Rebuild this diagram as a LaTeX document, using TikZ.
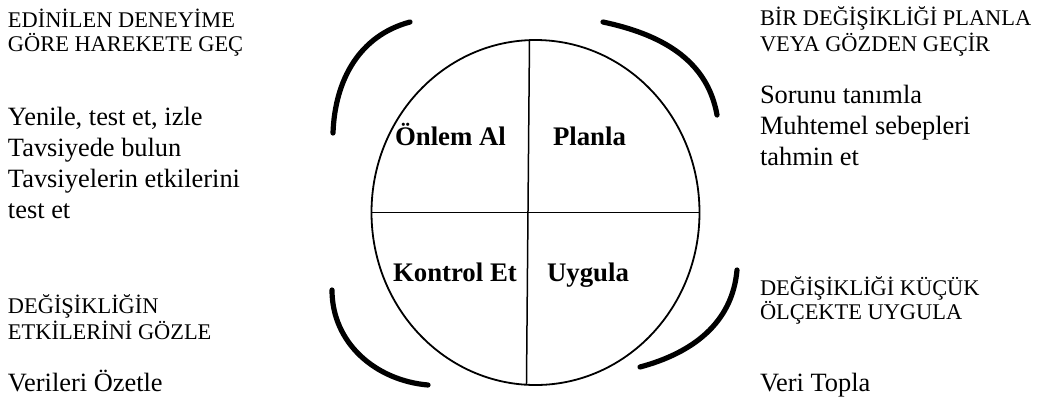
\documentclass[tikz,border=0pt]{standalone}
\usepackage{fontspec}
\setmainfont{Liberation Serif}
\usetikzlibrary{shapes.geometric}
\begin{document}
\begin{tikzpicture}[x=0.5pt,y=-0.5pt,
  every node/.style={inner sep=0pt,outer sep=0pt},
  capsnote/.style={anchor=base west,align=left,font=\fontsize{11.2}{11.6}\selectfont},
  tasknote/.style={anchor=base west,align=left,font=\fontsize{13.2}{15.4}\selectfont},
  phase/.style={anchor=base west,font=\fontsize{13.4}{16}\selectfont\bfseries},
  bracket/.style={line width=2.6pt,line cap=round}]
  \useasboundingbox (0,0) rectangle (1050,404);

  % cycle and quadrants
  \node[draw,ellipse,line width=0.9pt,minimum width=164pt,minimum height=172.5pt]
    (cycle) at (535.5,212.5) {};
  \draw[line width=0.75pt] (cycle.west) -- (cycle.east);
  \draw[line width=0.75pt] (cycle.92.8) -- (cycle.267.2);
  \node[phase] (act) at (395,145) {Önlem Al};
  \node[phase] (plan) at (553,145) {Planla};
  \node[phase] (check) at (393,281) {Kontrol Et};
  \node[phase] (do) at (547,281) {Uygula};

  % brackets round the cycle
  \coordinate (tla) at (333,133); \coordinate (tlb) at (410,22);
  \coordinate (tra) at (603,22);  \coordinate (trb) at (717,115);
  \coordinate (bla) at (332,290); \coordinate (blb) at (428,385);
  \coordinate (bra) at (737,270); \coordinate (brb) at (640,367);
  \draw[bracket] (tla) to[out=88,in=195] (tlb);
  \draw[bracket] (tra) to[out=-12,in=100] (trb);
  \draw[bracket] (bla) to[out=-90,in=175] (blb);
  \draw[bracket] (bra) to[out=-95,in=15] (brb);

  % left side (anchored on the last line)
  \node[capsnote] (actnote) at (8,51) {EDİNİLEN DENEYİME\\GÖRE HAREKETE GEÇ};
  \node[tasknote] (acttasks) at (8,218)
    {Yenile, test et, izle\\Tavsiyede bulun\\Tavsiyelerin etkilerini\\test et};
  \node[capsnote] (checknote) at (8,339) {DEĞİŞİKLİĞİN\\ETKİLERİNİ GÖZLE};
  \node[tasknote] (checktasks) at (8,391) {Verileri Özetle};

  % right side
  \node[capsnote] (plannote) at (760,51) {BİR DEĞİŞİKLİĞİ PLANLA\\VEYA GÖZDEN GEÇİR};
  \node[tasknote] (plantasks) at (760,165)
    {Sorunu tanımla\\Muhtemel sebepleri\\tahmin et};
  \node[capsnote] (donote) at (760,319) {DEĞİŞİKLİĞİ KÜÇÜK\\ÖLÇEKTE UYGULA};
  \node[tasknote] (dotasks) at (760,391) {Veri Topla};
\end{tikzpicture}
\end{document}
